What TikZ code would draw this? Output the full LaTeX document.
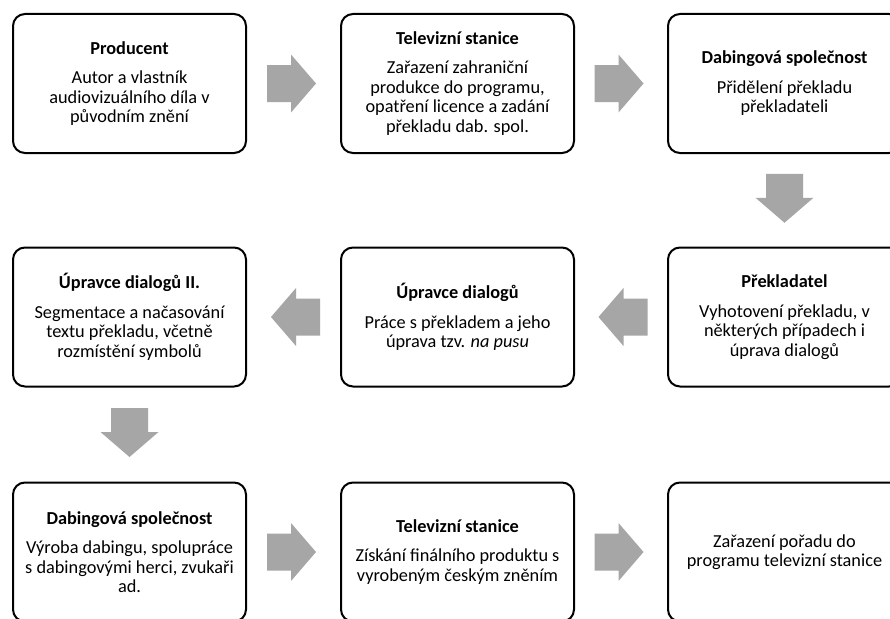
\documentclass[tikz,border=0pt]{standalone}
\usepackage{fontspec}
\setmainfont{Carlito}
\usetikzlibrary{calc}
\definecolor{arrowgray}{HTML}{A6A6A6}
\tikzset{
  box/.style={draw=black, line width=2pt, rounded corners=12pt, minimum width=233pt, minimum height=139pt, align=center, font=\fontsize{18.3}{19.5}\selectfont, inner sep=0pt},
  arrowfill/.style={fill=arrowgray, draw=none},
}
\newcommand{\blockarrow}[2]{\fill[arrowfill, shift={#1}, rotate=#2] (-24.5,-18.5) -- (-0.5,-18.5) -- (-0.5,-29) -- (24.5,0) -- (-0.5,29) -- (-0.5,18.5) -- (-24.5,18.5) -- cycle;}
\newcommand{\ttl}[1]{\textbf{#1}\\[10pt]}
\begin{document}
\begin{tikzpicture}[x=1pt, y=-1pt]
\useasboundingbox (0,0) rectangle (890,618);
\clip (0,0) rectangle (890,618);
\fill[white] (0,0) rectangle (890,618);
% row 1
\node[box] (p1) at (129.5,83.5) {\ttl{Producent}Autor a vlastník\\audiovizuálního díla v\\původním znění};
\node[box] (p2) at (457.5,83.5) {\ttl{Televizní stanice}Zařazení zahraniční\\produkce do programu,\\opatření licence a zadání\\překladu dab. spol.};
\node[box] (p3) at (784.5,83.5) {\ttl{Dabingová společnost}Přidělení překladu\\překladateli};
% row 2
\node[box] (q3) at (784.5,317) {\ttl{Překladatel}Vyhotovení překladu, v\\některých případech i\\úprava dialogů};
\node[box] (q2) at (457.5,317) {\ttl{Úpravce dialogů}Práce s překladem a jeho\\úprava tzv. \textit{na pusu}};
\node[box] (q1) at (129.5,317) {\ttl{Úpravce dialogů II.}Segmentace a načasování\\textu překladu, včetně\\rozmístění symbolů};
% row 3
\node[box] (r1) at (129.5,552) {\ttl{Dabingová společnost}Výroba dabingu, spolupráce\\s dabingovými herci, zvukaři\\ad.};
\node[box] (r2) at (457.5,552) {\ttl{Televizní stanice}Získání finálního produktu s\\vyrobeným českým zněním};
\node[box] (r3) at (784.5,552) {Zařazení pořadu do\\programu televizní stanice};
% arrows
\blockarrow{($(p1.east)!0.5!(p2.west)+(-2,0)$)}{0}
\blockarrow{($(p2.east)!0.5!(p3.west)+(-2,0)$)}{0}
\blockarrow{($(p3.south)!0.5!(q3.north)+(0,-2)$)}{-90}
\blockarrow{($(q3.west)!0.5!(q2.east)+(2,0)$)}{180}
\blockarrow{($(q2.west)!0.5!(q1.east)+(2,0)$)}{180}
\blockarrow{($(q1.south)!0.5!(r1.north)+(0,-2)$)}{-90}
\blockarrow{($(r1.east)!0.5!(r2.west)+(-2,0)$)}{0}
\blockarrow{($(r2.east)!0.5!(r3.west)+(-2,0)$)}{0}
\end{tikzpicture}
\end{document}
